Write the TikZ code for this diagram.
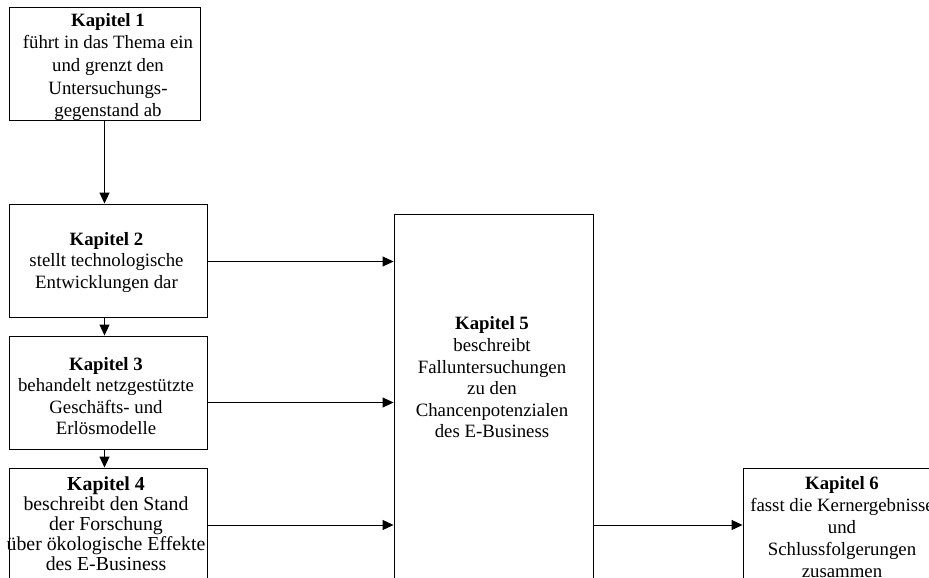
\documentclass[tikz,border=0pt]{standalone}
\usepackage{fontspec}
\setmainfont{Liberation Serif}
\usetikzlibrary{arrows.meta}
\begin{document}
\begin{tikzpicture}[x=1pt,y=-1pt,
  box/.style={draw=black,line width=0.9pt,rectangle,inner sep=0pt,fill=white},
  txt/.style={align=center,inner sep=0pt,font=\fontsize{18.8}{21.6}\selectfont},
  arr/.style={draw=black,line width=0.9pt,-{Triangle[length=11pt,width=10pt]}}]
\useasboundingbox (0,0) rectangle (929,578);
\clip (0,0) rectangle (929,578);
% chapter boxes
\node[box,minimum width=191pt,minimum height=113pt] (b1) at (104.5,63.5) {};
\node[box,minimum width=198pt,minimum height=113pt] (b2) at (108,260.5) {};
\node[box,minimum width=198pt,minimum height=113pt] (b3) at (108,392.5) {};
\node[box,minimum width=198pt,minimum height=114pt] (b4) at (108,525) {};
\node[box,minimum width=199pt,minimum height=400pt] (b5) at (493.5,414) {};
\node[box,minimum width=198pt,minimum height=114pt] (b6) at (842,525) {};
% chapter texts
\node[txt,font=\fontsize{18.8}{22.7}\selectfont] (t1) at (108,67)
  {\textbf{Kapitel 1}\\führt in das Thema ein\\und grenzt den\\Untersuchungs-\\gegenstand ab};
\node[txt] (t2) at (106.5,262.5)
  {\textbf{Kapitel 2}\\stellt technologische\\Entwicklungen dar};
\node[txt] (t3) at (106,396)
  {\textbf{Kapitel 3}\\behandelt netzgestützte\\Geschäfts- und\\Erlösmodelle};
\node[txt,font=\fontsize{19.8}{20}\selectfont] (t4) at (106,524)
  {\textbf{Kapitel 4}\\beschreibt den Stand\\der Forschung\\über ökologische Effekte\\des E-Business};
\node[txt] (t5) at (492,377.5)
  {\textbf{Kapitel 5}\\beschreibt\\Falluntersuchungen\\zu den\\Chancenpotenzialen\\des E-Business};
\node[txt,font=\fontsize{18.8}{22}\selectfont] (t6) at (842,527.5)
  {\textbf{Kapitel 6}\\fasst die Kernergebnisse\\und\\Schlussfolgerungen\\zusammen};
% reading order
\draw[arr] (b1.south) -- (b1.south |- b2.north);
\draw[arr] (b1.south |- b2.south) -- (b1.south |- b3.north);
\draw[arr] (b1.south |- b3.south) -- (b1.south |- b4.north);
\draw[arr] ([yshift=-1pt]b2.east) -- ([yshift=-1pt]b2.east -| b5.west);
\draw[arr] ([yshift=-10pt]b3.east) -- ([yshift=-10pt]b3.east -| b5.west);
\draw[arr] (b4.east) -- (b4.east -| b5.west);
\draw[arr] (b4.east -| b5.east) -- (b6.west);
\end{tikzpicture}
\end{document}
